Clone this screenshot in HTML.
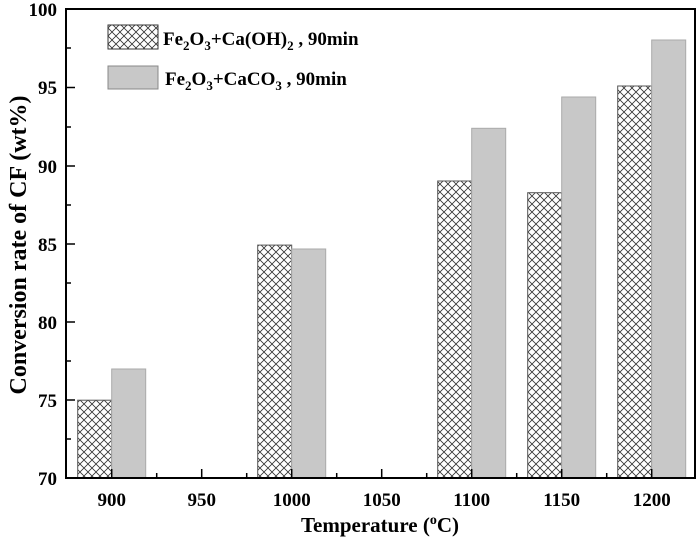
<!DOCTYPE html>
<html><head><style>body{margin:0;background:#fff}</style></head><body>
<svg width="700" height="539" xmlns="http://www.w3.org/2000/svg" font-family="Liberation Serif, serif" font-weight="bold">
<defs>
<pattern id="h" width="8" height="8" patternUnits="userSpaceOnUse">
<rect width="8" height="8" fill="#fff"/>
<path d="M0,0L8,8M8,0L0,8" stroke="#333" stroke-width="0.8"/>
</pattern>
</defs>
<g stroke="#555" stroke-width="1">
<rect x="77.7" y="400.2" width="34" height="77.8" fill="url(#h)"/>
<rect x="111.7" y="369" width="34" height="109" fill="#c8c8c8" stroke="#aaa"/>
<rect x="257.7" y="245.1" width="34" height="232.9" fill="url(#h)"/>
<rect x="291.7" y="249" width="34" height="229" fill="#c8c8c8" stroke="#aaa"/>
<rect x="437.7" y="181" width="34" height="297" fill="url(#h)"/>
<rect x="471.7" y="128.3" width="34" height="349.7" fill="#c8c8c8" stroke="#aaa"/>
<rect x="527.7" y="192.7" width="34" height="285.3" fill="url(#h)"/>
<rect x="561.7" y="97" width="34" height="381" fill="#c8c8c8" stroke="#aaa"/>
<rect x="617.7" y="86" width="34" height="392" fill="url(#h)"/>
<rect x="651.7" y="40" width="34" height="438" fill="#c8c8c8" stroke="#aaa"/>
</g>
<rect x="66" y="9" width="629" height="469" fill="none" stroke="#000" stroke-width="2"/>
<g stroke="#000" stroke-width="1.5">
<path d="M66,478h9M66,400h9M66,322h9M66,244h9M66,166h9M66,87.5h9M66,9h9"/>
<path d="M66,439h5M66,361h5M66,283h5M66,205h5M66,127h5M66,48h5"/>
<path d="M111.7,478v-9M201.7,478v-9M291.7,478v-9M381.7,478v-9M471.7,478v-9M561.7,478v-9M651.7,478v-9"/>
<path d="M156.7,478v-5M246.7,478v-5M336.7,478v-5M426.7,478v-5M516.7,478v-5M606.7,478v-5"/>
</g>
<g font-size="19" text-anchor="end">
<text x="57" y="485">70</text><text x="57" y="407">75</text><text x="57" y="329">80</text>
<text x="57" y="251">85</text><text x="57" y="173">90</text><text x="57" y="94">95</text><text x="57" y="16">100</text>
</g>
<g font-size="19" text-anchor="middle">
<text x="111.7" y="506">900</text><text x="201.7" y="506">950</text><text x="291.7" y="506">1000</text>
<text x="381.7" y="506">1050</text><text x="471.7" y="506">1100</text><text x="561.7" y="506">1150</text><text x="651.7" y="506">1200</text>
</g>
<text x="380" y="532" font-size="21" text-anchor="middle">Temperature (<tspan font-size="14" dy="-8">o</tspan><tspan dy="8">C)</tspan></text>
<text transform="translate(26,245) rotate(-90)" font-size="24" text-anchor="middle">Conversion rate of CF (wt%)</text>
<rect x="108" y="25" width="50" height="24" fill="url(#h)" stroke="#333"/>
<rect x="108" y="66" width="50" height="23" fill="#c8c8c8" stroke="#888"/>
<text x="163" y="45" font-size="19">Fe<tspan font-size="13" dy="5">2</tspan><tspan dy="-5">O</tspan><tspan font-size="13" dy="5">3</tspan><tspan dy="-5">+Ca(OH)</tspan><tspan font-size="13" dy="5">2</tspan><tspan dy="-5"> , 90min</tspan></text>
<text x="165" y="85" font-size="19">Fe<tspan font-size="13" dy="5">2</tspan><tspan dy="-5">O</tspan><tspan font-size="13" dy="5">3</tspan><tspan dy="-5">+CaCO</tspan><tspan font-size="13" dy="5">3</tspan><tspan dy="-5"> , 90min</tspan></text>
</svg>
</body></html>
